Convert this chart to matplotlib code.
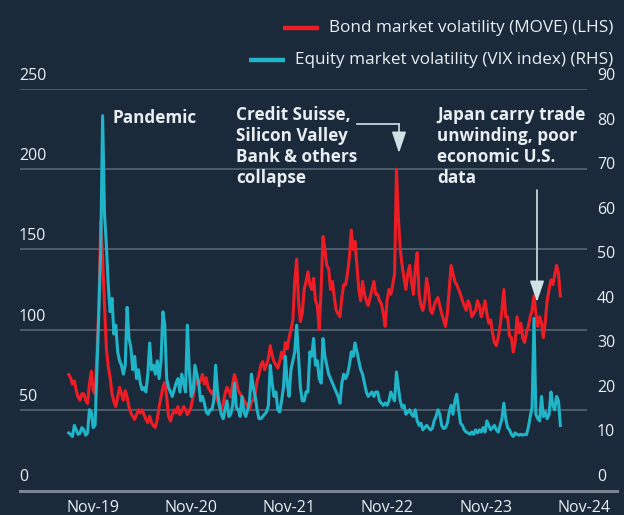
import matplotlib
matplotlib.use("Agg")
import matplotlib.pyplot as plt
from matplotlib.lines import Line2D
import pandas as pd

# ---------------- data (weekly readings, Mondays) ----------------
week_starts = ["2019-11-11", "2020-01-06", "2021-01-04", "2022-01-03", "2023-01-02", "2024-01-01"]

move_2019 = [72, 70, 66, 68, 62, 58, 56, 60]
move_2020 = [60, 56, 54, 66, 74, 62, 60, 85, 115, 167, 145, 115, 88, 77, 70, 60, 55, 52, 58, 64,
             60, 56, 62, 58, 52, 48, 46, 44, 47, 50, 48, 50, 47, 44, 42, 46, 42, 40, 39, 44,
             52, 58, 64, 67, 58, 46, 43, 47, 50, 48, 52, 47]
move_2021 = [49, 52, 50, 47, 49, 52, 58, 65, 70, 66, 68, 72, 66, 70, 64, 62, 60, 62, 58, 56,
             52, 50, 54, 60, 64, 62, 58, 66, 72, 68, 62, 60, 58, 56, 54, 52, 50, 55, 56, 60,
             68, 72, 78, 80, 75, 78, 82, 90, 84, 80, 78, 76]
move_2022 = [80, 86, 82, 92, 88, 95, 100, 106, 130, 144, 118, 105, 110, 125, 130, 136, 128, 125, 132, 118,
             115, 100, 125, 158, 150, 140, 138, 125, 130, 120, 112, 110, 108, 120, 128, 128, 135, 145, 162, 150,
             155, 140, 125, 118, 130, 122, 118, 115, 120, 125, 130, 122]
move_2023 = [122, 118, 116, 110, 102, 118, 125, 122, 128, 135, 200, 170, 150, 140, 132, 125, 135, 140, 130, 122,
             138, 148, 122, 115, 112, 118, 132, 125, 112, 110, 115, 118, 120, 115, 110, 106, 102, 110, 125, 140,
             135, 130, 128, 125, 122, 118, 115, 112, 118, 115, 108, 110]
move_2024 = [112, 118, 115, 108, 112, 118, 110, 104, 106, 98, 92, 90, 95, 102, 112, 125, 108, 108, 96, 95,
             86, 92, 108, 98, 104, 95, 92, 98, 102, 108, 112, 121, 110, 102, 108, 104, 95, 105, 118, 125,
             131, 128, 134, 140, 135, 121]

vix_2019 = [12.8, 12.5, 12.0, 14.5, 13.5, 12.5, 12.7, 14.0]
vix_2020 = [13.5, 12.3, 12.8, 18, 17.5, 14, 14.5, 27, 40, 54, 84, 62, 55, 46, 40, 43, 35, 37, 31, 29,
            28, 26, 28, 41, 34, 32, 27, 30, 25, 27, 24, 22.5, 23, 22, 26, 33, 27, 28, 26, 29,
            25, 29, 40, 37, 25, 23, 22, 21, 22.5, 24, 25, 22]
vix_2021 = [26, 24, 22, 37, 27, 21, 22, 28, 26, 24, 20, 21, 19.5, 17.5, 17, 18, 18, 20, 28, 22,
            19, 17, 16, 18, 20, 16.5, 17, 19, 24, 18.5, 18, 16.5, 21, 17.5, 16.5, 18, 20, 26, 23, 21,
            18, 16, 16, 16.5, 17, 17.5, 19, 28, 24, 21, 22, 18]
vix_2022 = [17.5, 20, 23, 30, 24, 21, 27, 29, 31, 37, 30, 23, 20, 20, 22, 22, 31, 30, 34, 28,
            29, 25, 24, 34, 30, 28, 26, 25, 24, 23, 22, 21, 19.5, 24, 26, 25, 26, 28, 31, 30,
            33, 31, 29, 27, 26, 24, 22, 21, 21.5, 22, 21, 22]
vix_2023 = [22, 20, 19.5, 19, 19.5, 19, 20, 22, 21, 20, 26.5, 23, 20, 18.5, 19, 17, 17.5, 18, 17, 16.5,
            18, 15.5, 14.5, 15, 13.5, 14, 14.5, 14, 13.5, 13.8, 15.5, 16.5, 18, 17, 14.5, 13.8, 14, 15, 17.5, 19,
            17, 20, 21.5, 18, 15, 14.5, 13.5, 13, 12.8, 12.5, 13, 12.5]
vix_2024 = [13.5, 12.8, 13.5, 13, 14, 13, 15.5, 14.5, 13.5, 14, 14.5, 13.5, 13, 14.5, 16, 19.5, 16, 14, 13.5, 12.5,
            12, 12.8, 12.5, 12.3, 12.5, 12.3, 12.5, 12.4, 14, 16.5, 18.5, 38.5, 17, 16, 15.5, 21, 16.5, 17.5, 16, 17,
            22, 19, 18, 21, 20, 14.5]

move_years = [move_2019, move_2020, move_2021, move_2022, move_2023, move_2024]
vix_years = [vix_2019, vix_2020, vix_2021, vix_2022, vix_2023, vix_2024]

left_ticks = [0, 50, 100, 150, 200, 250]
right_ticks = [0, 10, 20, 30, 40, 50, 60, 70, 80, 90]
x_tick_dates = ["2019-11-01", "2020-11-01", "2021-11-01", "2022-11-01", "2023-11-01", "2024-11-01"]
x_tick_labels = ["Nov-19", "Nov-20", "Nov-21", "Nov-22", "Nov-23", "Nov-24"]

label_move = "Bond market volatility (MOVE) (LHS)"
label_vix = "Equity market volatility (VIX index) (RHS)"


def build(starts, years):
    dates, vals = [], []
    for s, v in zip(starts, years):
        dates.extend(pd.date_range(s, periods=len(v), freq="7D"))
        vals.extend(v)
    return pd.Series(vals, index=pd.DatetimeIndex(dates))


move = build(week_starts, move_years)
vix = build(week_starts, vix_years)

# ---------------- style ----------------
BG = "#1b2a3a"
RED = "#ee1d25"
CYAN = "#20b4c8"
GRID = "#5d6976"
BASE = "#7b8591"
TXT = "#e9eef2"
ARROW = "#cfe2e6"
plt.rcParams["font.family"] = ["Open Sans", "DejaVu Sans"]

W, H = 624, 515
fig = plt.figure(figsize=(W / 100, H / 100), dpi=100, facecolor=BG)


def fx(px):
    return px / W


def fy(py):
    return 1 - py / H


ax_l, ax_r_px, ax_b, ax_t = 20, 587, 490, 89
ax = fig.add_axes([fx(ax_l), fy(ax_b), fx(ax_r_px) - fx(ax_l), fy(ax_t) - fy(ax_b)])
ax.set_facecolor(BG)
ax2 = ax.twinx()

ax.set_ylim(0, 250)
ax2.set_ylim(0, 90)
x0 = pd.Timestamp("2019-11-01") - pd.Timedelta(days=171)
x1 = pd.Timestamp("2019-11-01") + pd.Timedelta(days=1936)
ax.set_xlim(x0, x1)

for a in (ax, ax2):
    for sp in a.spines.values():
        sp.set_visible(False)
    a.tick_params(left=False, right=False, labelleft=False, labelright=False)

# gridlines
for v in left_ticks[1:]:
    ax.axhline(v, color=GRID, lw=1.1, zorder=1)

# baseline (extends past the axes to the right)
fig.add_artist(Line2D([fx(20), fx(617)], [fy(491), fy(491)], color=BASE, lw=2.2))

# lines
ax.plot(move.index, move.values, color=RED, lw=2.2, zorder=3, solid_joinstyle="round")
ax2.plot(vix.index, vix.values, color=CYAN, lw=2.2, zorder=4, solid_joinstyle="round")
ax.set_zorder(1)
ax2.set_zorder(2)

FS = 11.5
# y labels (sit above gridlines)
for v in left_ticks:
    py = ax_b - (ax_b - ax_t) * v / 250
    fig.text(fx(19), fy(py - 13), str(v), color=TXT, fontsize=FS, ha="left", va="center")
for v in right_ticks:
    py = ax_b - (ax_b - ax_t) * v / 90
    fig.text(fx(597), fy(py - 13), str(v), color=TXT, fontsize=FS, ha="left", va="center")

# x labels (left aligned at tick dates)
ax.set_xticks(pd.to_datetime(x_tick_dates))
ax.set_xticklabels(x_tick_labels, ha="left", color=TXT, fontsize=FS)
ax.tick_params(axis="x", bottom=False, labelbottom=True, pad=4)


# legend (each row right-aligned)
def legend_row(py, color, text, line_x0, line_x1):
    fig.text(fx(613), fy(py), text, color=TXT, fontsize=12.3, ha="right", va="center")
    fig.add_artist(Line2D([fx(line_x0), fx(line_x1)], [fy(py), fy(py)], color=color, lw=3.2,
                          solid_capstyle="butt"))


legend_row(28, RED, label_move, 283, 319)
legend_row(60, CYAN, label_vix, 249, 285)

# annotations
AFS = 12.3
fig.text(fx(113), fy(118), "Pandemic", color=TXT, fontsize=AFS, fontweight="bold",
         ha="left", va="center")
fig.text(fx(236), fy(106), "Credit Suisse,\nSilicon Valley\nBank & others\ncollapse", color=TXT,
         fontsize=AFS, fontweight="bold", ha="left", va="top", linespacing=1.22)
fig.text(fx(437), fy(106), "Japan carry trade\nunwinding, poor\neconomic U.S.\ndata", color=TXT,
         fontsize=AFS, fontweight="bold", ha="left", va="top", linespacing=1.22)

arrow_style = "-|>,head_length=0.65,head_width=0.22"
# Credit Suisse arrow: horizontal then down
fig.add_artist(Line2D([fx(357), fx(399)], [fy(124), fy(124)], color=ARROW, lw=1.2))
ax.annotate("", xy=(fx(399), fy(153)), xycoords="figure fraction",
            xytext=(fx(399), fy(124)), textcoords="figure fraction",
            arrowprops=dict(arrowstyle=arrow_style, color=ARROW, lw=1.2,
                            mutation_scale=20, shrinkA=0, shrinkB=0))
# Japan arrow: vertical
ax.annotate("", xy=(fx(537), fy(302)), xycoords="figure fraction",
            xytext=(fx(537), fy(190)), textcoords="figure fraction",
            arrowprops=dict(arrowstyle=arrow_style, color=ARROW, lw=1.2,
                            mutation_scale=20, shrinkA=0, shrinkB=0))

fig.savefig("out.png", dpi=100, facecolor=BG)
